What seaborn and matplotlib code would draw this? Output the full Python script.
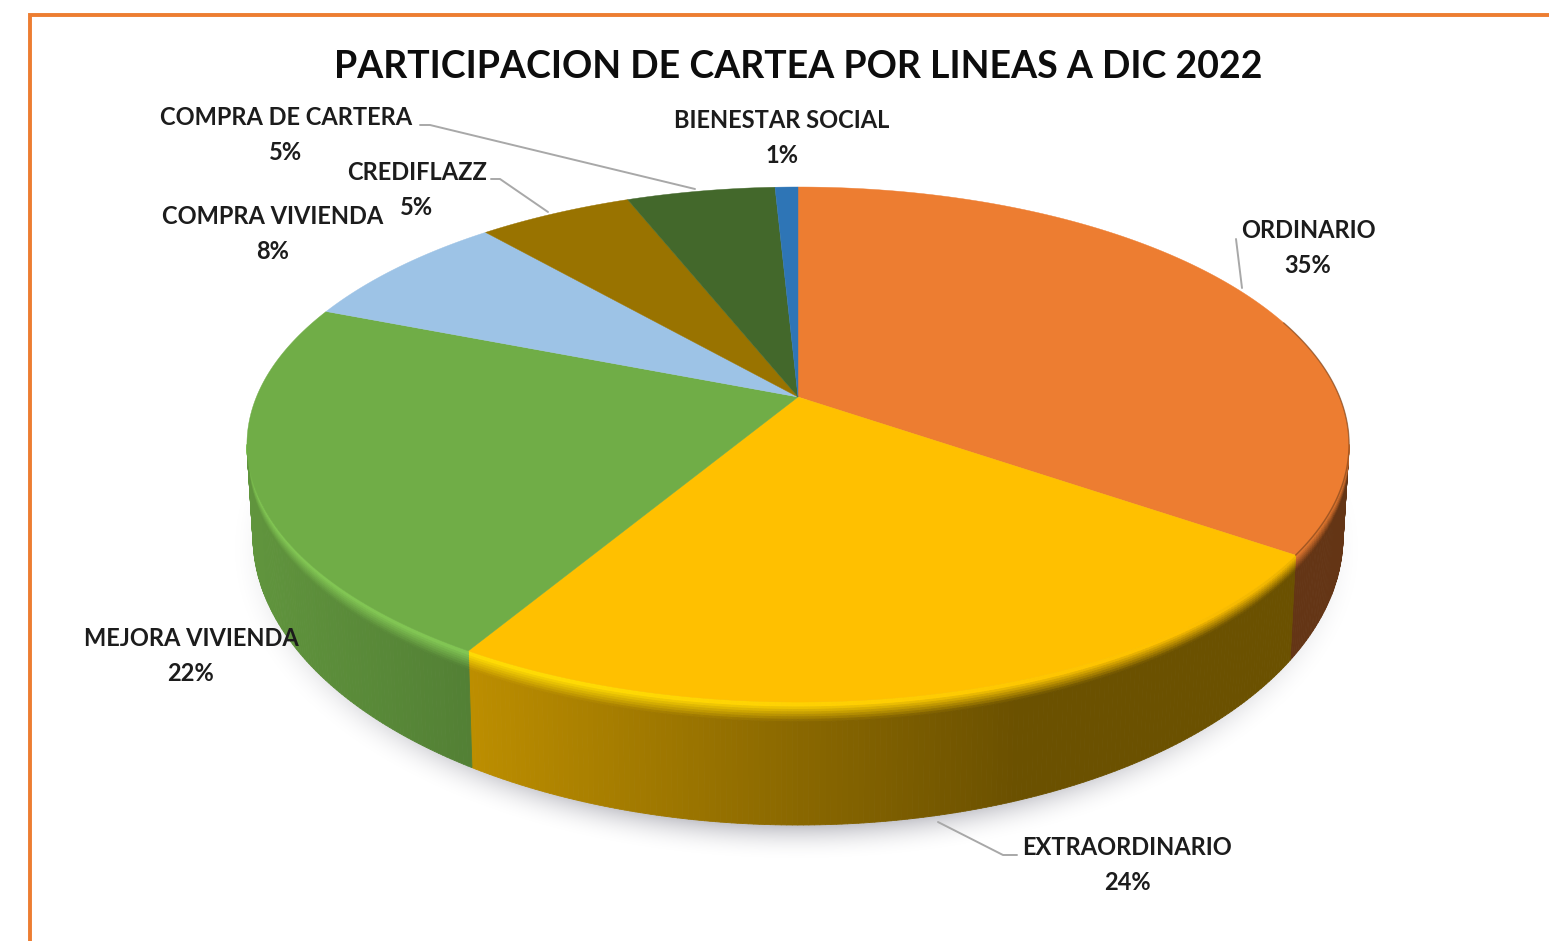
#!/usr/bin/env python3
# -*- coding: utf-8 -*-

import numpy as np
import matplotlib
matplotlib.use("Agg")
import matplotlib.pyplot as plt
from matplotlib.collections import PolyCollection
import seaborn as sns

# datos (orden de las agujas del reloj desde arriba)
lineas = ["ORDINARIO", "EXTRAORDINARIO", "MEJORA VIVIENDA", "COMPRA VIVIENDA",
          "CREDIFLAZZ", "COMPRA DE CARTERA", "BIENESTAR SOCIAL"]
participacion = [34.6, 23.9, 22.4, 7.6, 5.4, 5.2, 0.8]
colores = ["#ED7D31", "#FFC000", "#70AD47", "#9DC3E6", "#997300", "#43682B", "#2E75B6"]
titulo = "PARTICIPACION DE CARTEA POR LINEAS A DIC 2022"

sns.set_theme(style="white")
plt.rcParams["font.family"] = ["Lato", "DejaVu Sans"]

fig, ax = plt.subplots(figsize=(15.49, 9.41), dpi=100)
fig.subplots_adjust(0, 0, 1, 1)
ax.set_xlim(0, 1549)
ax.set_ylim(941, 0)
ax.axis("off")

palette = np.array(sns.color_palette(colores))
total = sum(participacion)
limites = np.concatenate([[0], np.cumsum(participacion)]) / total * 2 * np.pi

# perspectiva: el disco se proyecta con k, cara superior e inferior
K = 0.1845
CX = 798


def cara_sup(t, r=1.0):
    x, y = r * np.sin(t), r * np.cos(t)
    den = 1 + K * y
    return CX + 541.6 * x / den, (-175.5 * y + 397) / den


def cara_inf(t):
    x, y = np.sin(t), np.cos(t)
    den = 1 + K * y
    return CX + 535.7 * x / den, (-190.1 * y + 482.7) / den


# sombra suave debajo del disco
xx, yy = np.meshgrid(np.arange(150, 1450), np.arange(400, 900))
dist = np.sqrt(((xx - 796) / 566) ** 2 + ((yy - 548) / 312) ** 2)
sombra = np.zeros(xx.shape + (4,))
sombra[..., :3] = (0.70, 0.70, 0.73)
sombra[..., 3] = np.clip((1.0 - dist) / 0.11, 0, 1) ** 2 * 0.75
ax.imshow(sombra, extent=(150, 1450, 900, 400), aspect="auto", zorder=1,
          interpolation="bilinear")
ax.set_xlim(0, 1549)
ax.set_ylim(941, 0)

# pared lateral: franjas con degradado horizontal y brillo junto al borde
T_INI, T_FIN = np.arccos(-K), 2 * np.pi - np.arccos(-K)
filas = np.array([0, 0.02, 0.04, 0.06, 0.08, 0.10, 0.12, 0.14, 0.16, 1.0])
polys, caras = [], []
for i, base in enumerate(palette):
    a, b = max(limites[i], T_INI), min(limites[i + 1], T_FIN)
    if a >= b:
        continue
    ts = np.linspace(a, b, max(2, int((b - a) * 120)))
    for t0, t1 in zip(ts[:-1], ts[1:]):
        xs0, ys0 = cara_sup(t0)
        xs1, ys1 = cara_sup(t1)
        xi0, yi0 = cara_inf(t0)
        xi1, yi1 = cara_inf(t1)
        u = ((xs0 + xs1) / 2 - 247) / 1102
        sombreado = np.interp(u, [0, 0.2, 0.5, 0.7, 1], [0.86, 0.74, 0.54, 0.42, 0.42])
        pared = base * sombreado
        brillo = np.interp(u, [0, 0.3, 0.6, 0.85, 1], [0.12, 0.12, 0.06, 0.0, -0.1])
        claro = np.clip(base * (1 + brillo) + max(brillo, 0) * 0.12, 0, 1)
        for f0, f1 in zip(filas[:-1], filas[1:]):
            mezcla = np.clip(((f0 + f1) / 2 - 0.03) / 0.13, 0, 1)
            polys.append([
                (xs0 + f0 * (xi0 - xs0), ys0 + f0 * (yi0 - ys0)),
                (xs1 + f0 * (xi1 - xs1), ys1 + f0 * (yi1 - ys1)),
                (xs1 + f1 * (xi1 - xs1), ys1 + f1 * (yi1 - ys1)),
                (xs0 + f1 * (xi0 - xs0), ys0 + f1 * (yi0 - ys0)),
            ])
            caras.append(claro * (1 - mezcla) + pared * mezcla)
ax.add_collection(PolyCollection(polys, facecolors=caras, edgecolors=caras,
                                 linewidths=0.6, zorder=2))

# cara superior
for i, base in enumerate(palette):
    t = np.linspace(limites[i], limites[i + 1], 200)
    x, y = cara_sup(t)
    ax.fill(np.r_[CX, x], np.r_[397, y], color=base, lw=0.3, zorder=3)

# borde oscuro en la parte derecha del disco
t = np.linspace(1.25, limites[1], 100)
ax.plot(*cara_sup(t), color="#6b3a17", lw=1.0, alpha=0.55, zorder=4)

# lineas guia
guias = [
    ([420, 430, 695], [125, 125, 189]),
    ([491, 500, 548], [179, 179, 212]),
    ([1236, 1242], [239, 288]),
    ([938, 1003, 1017], [822, 855, 855]),
]
for gx, gy in guias:
    ax.plot(gx, gy, color="#a8a8a8", lw=1.4, zorder=5, solid_capstyle="round")

# etiquetas
posiciones = [(1308, 248), (1127, 865), (191, 656), (273, 234), (417, 190),
              (286, 135), (782, 138)]
for nombre, valor, (px, py) in zip(lineas, participacion, posiciones):
    ax.text(px, py, f"{nombre}\n{valor / total * 100:.0f}%", ha="center", va="center",
            fontsize=17, fontweight="bold", color="#1c1c1c", linespacing=1.58, zorder=6)

ax.text(798, 67, titulo, ha="center", va="center", fontsize=27, fontweight="bold",
        color="#0d0d0d", zorder=6)

# marco naranja del recorte
ax.plot([30, 30, 1549], [941, 15, 15], color="#ED7D31", lw=2.8, zorder=7,
        solid_joinstyle="miter")

plt.savefig("out.png", dpi=100, facecolor="white")
